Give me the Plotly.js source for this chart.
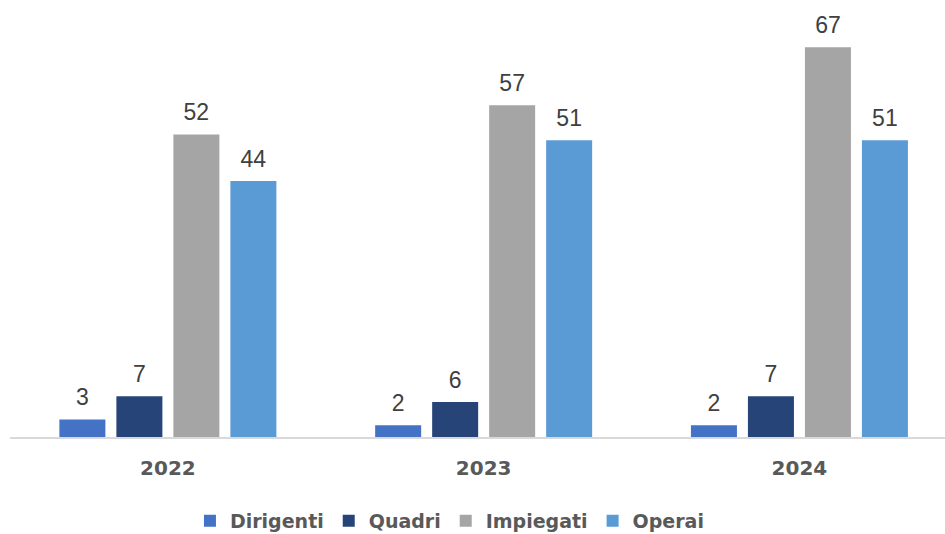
<!DOCTYPE html>
<html><head><meta charset="utf-8">
<script src="https://cdn.plot.ly/plotly-3.0.1.min.js"></script>
<style>html,body{margin:0;padding:0;background:#fff;}#chart{width:945px;height:534px;}</style>
</head><body><div id="chart"></div>
<script>
const years = ['2022', '2023', '2024'];
const seriesNames = ['Dirigenti', 'Quadri', 'Impiegati', 'Operai'];
const dirigenti = [3, 2, 2];
const quadri = [7, 6, 7];
const impiegati = [52, 57, 67];
const operai = [44, 51, 51];
const colors = ['#4472C4', '#264478', '#A5A5A5', '#5B9BD5'];
const values = [dirigenti, quadri, impiegati, operai];

const bars = values.map((v, i) => ({
  type: 'bar', name: seriesNames[i], x: years, y: v,
  marker: {color: colors[i]}, offsetgroup: 'g' + i,
  hoverinfo: 'none'
}));
const labels = values.map((v, i) => ({
  type: 'scatter', mode: 'markers+text', x: years, y: v, showlegend: false,
  offsetgroup: 'g' + i, cliponaxis: false,
  marker: {size: 12, opacity: 0, color: colors[i]},
  text: v.map(String), textposition: 'top center',
  textfont: {family: 'Liberation Sans, Arial, sans-serif', size: 23, color: '#404040'},
  hoverinfo: 'none'
}));

const layout = {
  width: 945, height: 534,
  margin: {l: 10, r: 0, t: 0, b: 97, autoexpand: false},
  paper_bgcolor: '#fff', plot_bgcolor: '#fff',
  barmode: 'group', bargap: 0.278, bargroupgap: 0.193,
  scattermode: 'group', scattergap: 0.278,
  showlegend: true,
  legend: {orientation: 'h', x: 0.47, xanchor: 'center', y: -0.192, yanchor: 'middle',
    font: {family: 'DejaVu Sans', size: 19, color: '#595959', weight: 'bold'}},
  xaxis: {type: 'category', range: [-0.5, 2.461], showline: true, linecolor: '#D9D9D9', linewidth: 2,
    ticks: 'outside', ticklen: 12, tickcolor: 'rgba(0,0,0,0)',
    tickfont: {family: 'DejaVu Sans', size: 20, color: '#595959', weight: 'bold'}, showgrid: false},
  yaxis: {range: [0, 75.1], visible: false, showgrid: false, zeroline: false}
};
Plotly.newPlot('chart', bars.concat(labels), layout, {displayModeBar: false, staticPlot: true});
</script></body></html>
